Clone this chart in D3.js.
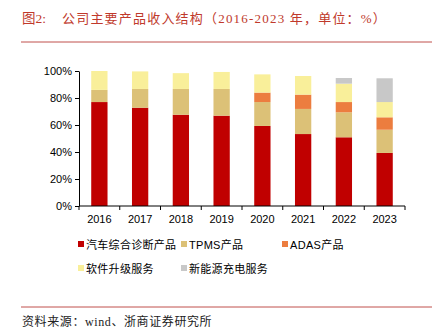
<!DOCTYPE html>
<html><head><meta charset="utf-8">
<script src="https://cdn.jsdelivr.net/npm/d3@7"></script>
<style>body{margin:0;background:#fff;}svg{display:block;}</style>
</head><body>
<svg id="c" width="445" height="331"></svg>
<script>
const years = ["2016","2017","2018","2019","2020","2021","2022","2023"];
const seriesNames = ["汽车综合诊断产品","TPMS产品","ADAS产品","软件升级服务","新能源充电服务"];
const diag = [77, 72.8, 67.6, 66.9, 59.3, 53.3, 50.9, 39.3];
const tpms = [9, 13.9, 19.1, 19.8, 17.7, 18.6, 18.5, 17.2];
const adas = [0, 0, 0, 0, 7, 10.6, 7.6, 9.2];
const software = [14, 13, 11.7, 12.6, 13.5, 13.8, 13.6, 11.3];
const charging = [0, 0, 0, 0, 0, 0, 4.2, 17.6];
const yTicks = [0, 20, 40, 60, 80, 100];
const colors = ["#C00000","#DCC177","#EC7D3F","#F9EF9A","#C8C8C8"];

const svg = d3.select("#c");
const rows = years.map((y,i)=>({year:y, s0:diag[i], s1:tpms[i], s2:adas[i], s3:software[i], s4:charging[i]}));
const stack = d3.stack().keys(["s0","s1","s2","s3","s4"])(rows);

const x = d3.scaleBand().domain(years).range([79, 405]).paddingInner(0.6).paddingOuter(0.3);
const y = d3.scaleLinear().domain([0,100]).range([206, 71]);

const titleFont = "'Liberation Serif','Noto Sans CJK SC', serif";
// title
svg.append("text").attr("x",22).attr("y",23).attr("fill","#C0392B")
  .attr("font-family",titleFont).attr("font-size",13.5).text("图2:");
svg.append("text").attr("x",62).attr("y",23).attr("fill","#C0392B")
  .attr("font-family",titleFont).attr("font-size",13).attr("letter-spacing",1.2)
  .text("公司主要产品收入结构（2016-2023 年，单位：%）");
svg.append("line").attr("x1",21).attr("x2",432).attr("y1",42).attr("y2",42).attr("stroke","#C0504D").attr("stroke-width",1);

// bars
stack.forEach((layer,k)=>{
  svg.append("g").selectAll("rect").data(layer).join("rect")
    .attr("x",d=>x(d.data.year)).attr("width",x.bandwidth())
    .attr("y",d=>y(d[1])).attr("height",d=>Math.max(0,y(d[0])-y(d[1])))
    .attr("fill",colors[k]);
});

// axes
const yAxis = svg.append("g").attr("transform","translate(79,0)")
  .call(d3.axisLeft(y).tickValues(yTicks).tickFormat(d=>d+"%").tickSize(4).tickSizeOuter(0));
const xAxis = svg.append("g").attr("transform","translate(0,206)");
xAxis.append("line").attr("x1",79).attr("x2",405).attr("stroke","#000");
d3.range(9).forEach(i=>{
  const xx = 79 + i*(326/8);
  xAxis.append("line").attr("x1",xx).attr("x2",xx).attr("y1",0).attr("y2",4).attr("stroke","#000");
});
xAxis.selectAll("text.yl").data(years).join("text").attr("class","yl")
  .attr("x",d=>x(d)+x.bandwidth()/2).attr("y",17).attr("text-anchor","middle")
  .attr("font-family","'Liberation Sans', Arial, sans-serif").attr("font-size",11).text(d=>d);
yAxis.selectAll("text").attr("font-family","'Liberation Sans', Arial, sans-serif").attr("font-size",11).attr("fill","#000");
yAxis.selectAll("path,line").attr("stroke","#000");

// legend
const legPos = [[78,245],[181,245],[282,245],[78,269],[181,269]];
seriesNames.forEach((n,i)=>{
  const [lx,ly] = legPos[i];
  svg.append("rect").attr("x",lx).attr("y",ly-4).attr("width",6).attr("height",6).attr("fill",colors[i]);
  svg.append("text").attr("x",lx+8).attr("y",ly+4).attr("font-size",11).attr("letter-spacing",0.3)
    .attr("font-family","'Liberation Sans','Noto Sans CJK SC', sans-serif").attr("fill","#000").text(n);
});

// source
svg.append("line").attr("x1",21).attr("x2",432).attr("y1",307).attr("y2",307).attr("stroke","#C0504D").attr("stroke-width",1);
svg.append("text").attr("x",22).attr("y",326).attr("font-size",12).attr("letter-spacing",0.6)
  .attr("font-family",titleFont).attr("fill","#222")
  .text("资料来源：wind、浙商证券研究所");
</script>
</body></html>
